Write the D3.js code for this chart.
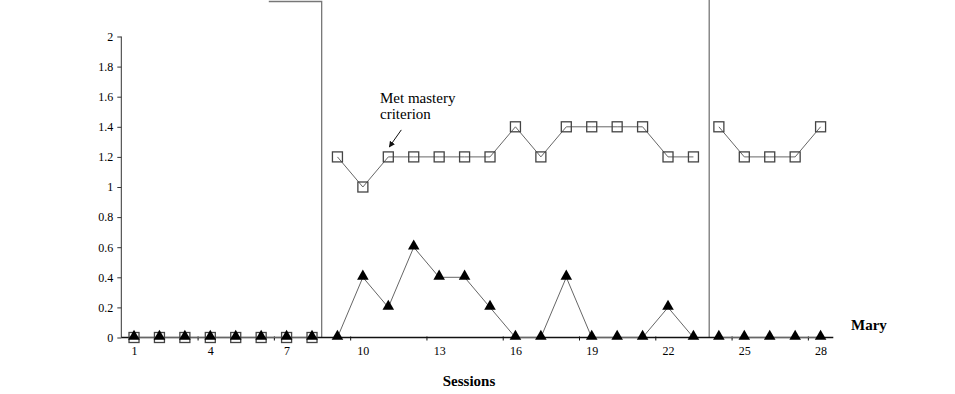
<!DOCTYPE html>
<html>
<head>
<meta charset="utf-8">
<script src="https://cdn.jsdelivr.net/npm/d3@7"></script>
<style>
    body { margin: 0; background: #fff; }
    svg text { font-family: "Liberation Serif", "DejaVu Serif", serif; fill: #000; }
</style>
</head>
<body>
<svg id="chart" width="955" height="394"></svg>
<script>
const sessions = [1, 2, 3, 4, 5, 6, 7, 8, 9, 10, 11, 12, 13, 14, 15, 16, 17, 18, 19, 20, 21, 22, 23, 24, 25, 26, 27, 28];
const phase = [1, 1, 1, 1, 1, 1, 1, 1, 2, 2, 2, 2, 2, 2, 2, 2, 2, 2, 2, 2, 2, 2, 2, 3, 3, 3, 3, 3];
const squareValues = [0, 0, 0, 0, 0, 0, 0, 0, 1.2, 1.0, 1.2, 1.2, 1.2, 1.2, 1.2, 1.4, 1.2, 1.4, 1.4, 1.4, 1.4, 1.2, 1.2, 1.4, 1.2, 1.2, 1.2, 1.4];
const triangleValues = [0, 0, 0, 0, 0, 0, 0, 0, 0, 0.4, 0.2, 0.6, 0.4, 0.4, 0.2, 0, 0, 0.4, 0, 0, 0, 0.2, 0, 0, 0, 0, 0, 0];
const yTicks = [0, 0.2, 0.4, 0.6, 0.8, 1, 1.2, 1.4, 1.6, 1.8, 2];
const xLabelTicks = [1, 4, 7, 10, 13, 16, 19, 22, 25, 28];
const xMinorTicks = [3.5, 6.5, 9.5, 12.5, 15.5, 18.5, 21.5, 24.5, 27.5];
const phaseLines = [8.38, 23.62];
const topStepStart = 6.3;   // piece of the upper panel's phase line
const masterySession = 11;

const svg = d3.select('#chart');

const x = d3.scaleLinear().domain([0.5, 28.5]).range([121.3, 833.3]);
const y = d3.scaleLinear().domain([0, 2]).range([337.5, 36.5]);

// y axis
const yAxis = svg.append('g')
    .attr('transform', `translate(${x(0.5)},0)`)
    .call(d3.axisLeft(y)
        .tickValues(yTicks)
        .tickSize(4)
        .tickPadding(4)
        .tickFormat(d => String(+d.toFixed(1))));
yAxis.attr('font-family', '"Liberation Serif", serif').attr('font-size', 12);
yAxis.select('.domain').attr('stroke', '#333').attr('d', `M0,${y(2)}V${y(0)}`);
yAxis.selectAll('.tick line').attr('stroke', '#333');

// phase change lines
svg.append('path')
    .attr('d', `M${x(topStepStart)},1.5H${x(phaseLines[0])}V${y(0)}`)
    .attr('fill', 'none')
    .attr('stroke', '#777')
    .attr('stroke-width', 1.3);
svg.append('path')
    .attr('d', `M${x(phaseLines[1])},0V${y(0)}`)
    .attr('fill', 'none')
    .attr('stroke', '#777')
    .attr('stroke-width', 1.3);

// x axis: minor ticks between categories, labels without ticks
const xAxis = svg.append('g')
    .attr('transform', `translate(0,${y(0)})`)
    .call(d3.axisBottom(x).tickValues(xMinorTicks).tickSize(3).tickFormat(''));
xAxis.select('.domain').attr('stroke', '#111').attr('stroke-width', 1.3).attr('d', `M${x(0.5)},0H${x(28.5)}`);
xAxis.selectAll('.tick line').attr('stroke', '#111').attr('y1', -1);

const xLabels = svg.append('g')
    .attr('transform', `translate(0,${y(0)})`)
    .call(d3.axisBottom(x).tickValues(xLabelTicks).tickSize(0).tickPadding(9));
xLabels.attr('font-family', '"Liberation Serif", serif').attr('font-size', 12);
xLabels.select('.domain').remove();

// series data split by phase
const rows = sessions.map((s, i) => ({ s, phase: phase[i], sq: squareValues[i], tri: triangleValues[i] }));
const groups = d3.groups(rows, d => d.phase).map(g => g[1]);

const lineSq = d3.line().x(d => x(d.s)).y(d => y(d.sq));
const lineTri = d3.line().x(d => x(d.s)).y(d => y(d.tri));

svg.append('g').selectAll('path')
    .data(groups)
    .join('path')
    .attr('d', lineSq)
    .attr('fill', 'none')
    .attr('stroke', '#666')
    .attr('stroke-width', 1);

svg.append('g').selectAll('path')
    .data(groups)
    .join('path')
    .attr('d', lineTri)
    .attr('fill', 'none')
    .attr('stroke', '#666')
    .attr('stroke-width', 1);

// square markers
const sqSize = 10;
svg.append('g').selectAll('rect')
    .data(rows)
    .join('rect')
    .attr('x', d => x(d.s) - sqSize / 2)
    .attr('y', d => y(d.sq) - sqSize / 2)
    .attr('width', sqSize)
    .attr('height', sqSize)
    .attr('fill', 'none')
    .attr('stroke', '#444')
    .attr('stroke-width', 1.3);

// triangle markers
const tri = d3.symbol().type(d3.symbolTriangle).size(58);
svg.append('g').selectAll('path')
    .data(rows)
    .join('path')
    .attr('d', tri)
    .attr('transform', d => `translate(${x(d.s)},${y(d.tri) - 1})`)
    .attr('fill', '#000');

// annotation
const note = svg.append('text')
    .attr('x', 380)
    .attr('y', 103)
    .style('font-size', '15px');
note.append('tspan').attr('x', 380).text('Met mastery');
note.append('tspan').attr('x', 380).attr('dy', 16).text('criterion');

svg.append('defs').append('marker')
    .attr('id', 'arrow')
    .attr('viewBox', '0 0 10 10')
    .attr('refX', 9)
    .attr('refY', 5)
    .attr('markerWidth', 6)
    .attr('markerHeight', 6)
    .attr('orient', 'auto')
    .append('path')
    .attr('d', 'M0,0L10,5L0,10Z')
    .attr('fill', '#111');

svg.append('line')
    .attr('x1', x(masterySession) + 13)
    .attr('y1', y(1.2) - 27)
    .attr('x2', x(masterySession) + 1)
    .attr('y2', y(1.2) - 10)
    .attr('stroke', '#111')
    .attr('stroke-width', 1)
    .attr('marker-end', 'url(#arrow)');

// labels
svg.append('text')
    .attr('x', 851)
    .attr('y', 330)
    .style('font-size', '15px')
    .style('font-weight', 'bold')
    .text('Mary');

svg.append('text')
    .attr('x', 469)
    .attr('y', 386)
    .attr('text-anchor', 'middle')
    .style('font-size', '15px')
    .style('font-weight', 'bold')
    .text('Sessions');
</script>
</body>
</html>
